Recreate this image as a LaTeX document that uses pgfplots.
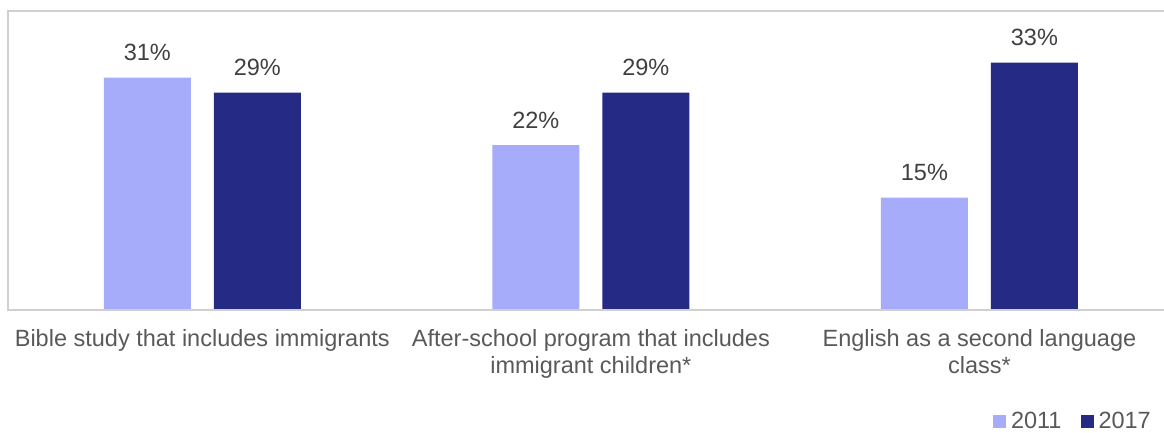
\documentclass[border=0pt]{standalone}
\usepackage{fontspec}
\setmainfont{Liberation Sans}
\usepackage{pgfplots}
\pgfplotsset{compat=1.18}
\definecolor{lightbar}{HTML}{A6ABFA}
\definecolor{darkbar}{HTML}{252A85}
\definecolor{labelgray}{HTML}{404040}
\definecolor{catgray}{HTML}{595959}
\definecolor{framegray}{HTML}{D0D0D0}
\begin{document}
\begin{tikzpicture}
\begin{axis}[
  name=ax,
  scale only axis,
  width=1156pt, height=299pt,
  xmin=-0.5, xmax=2.475,
  ymin=0, ymax=39.87,
  ybar,
  bar width=87pt,
  axis line style={draw=none},
  ytick=\empty,
  xtick={0,1,2},
  xticklabels={Bible study that includes immigrants,{After-school program that includes\\immigrant children*},{English as a second language\\class*}},
  major tick length=0pt,
  xticklabel style={align=center, font=\fontsize{23.5}{26.5}\selectfont, text=catgray, yshift=-16pt},
  /pgf/number format/assume math mode=true,
  nodes near coords={\pgfmathprintnumber{\pgfplotspointmeta}\%},
  nodes near coords style={font=\fontsize{23.5}{27}\selectfont, text=labelgray, anchor=base, inner sep=0pt, yshift=17pt},
  legend columns=2,
  legend style={draw=none, fill=none, at={(0.9905,-0.373)}, anchor=east, font=\fontsize{23.5}{24}\selectfont, text=catgray, inner sep=0pt,
    /tikz/every odd column/.append style={column sep=3pt},
    /tikz/every even column/.append style={column sep=17pt}},
  legend image code/.code={\fill[#1] (0pt,-6.5pt) rectangle (13pt,6.5pt);},
  clip=false,
]
\addplot[fill=lightbar, draw=none, bar shift=-55pt] coordinates {(0,31) (1,22) (2,15)};
\addplot[fill=darkbar, draw=none, bar shift=55pt] coordinates {(0,29) (1,29) (2,33)};
\legend{2011,2017}
\draw[framegray, line width=1.5pt] (rel axis cs:1,0) -- (rel axis cs:0,0) -- (rel axis cs:0,1) -- (rel axis cs:1,1);
\end{axis}
\pgfresetboundingbox
\path[use as bounding box] ([xshift=-8pt,yshift=-122pt]ax.south west) rectangle ([yshift=11pt]ax.north east);
\end{tikzpicture}
\end{document}
